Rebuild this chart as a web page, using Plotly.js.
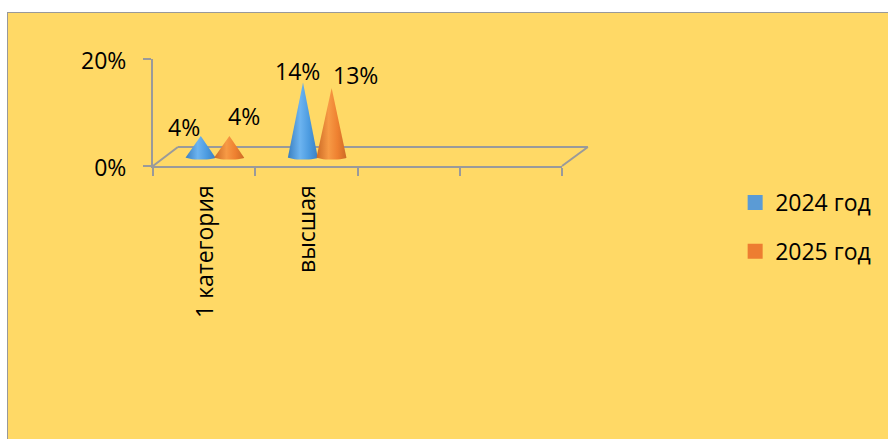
<!DOCTYPE html>
<html><head><meta charset="utf-8">
<script src="https://cdn.plot.ly/plotly-3.0.1.min.js"></script>
<style>
html,body{margin:0;padding:0;background:#fff;overflow:hidden}
#frame{position:absolute;left:7px;top:12px;width:881px;height:427px;box-sizing:border-box;border-left:1px solid #999;border-top:1px solid #999;background:#FFD966}
#chart{width:880px;height:426px}
</style></head><body><div id="frame"><div id="chart"></div></div>
<script>
const categories = ["1 категория", "высшая", " ", "  "];
const series2024 = [4, 14];
const series2025 = [4, 13];
const seriesNames = ["2024 год", "2025 год"];
const yTickVals = [0, 20];
const yTickText = ["0%", "20%"];
const lightColors = ["#6db4f0", "#f79a45"];
const mainColors = ["#5B9BD5", "#ED7D31"];
const coneColors = ["#4c9be0", "#ee8030"];
const darkColors = ["#3a7fc0", "#cc6a25"];
const pairOffset = [-0.14, 0.14];
const coneHalfWidth = 0.148;
const baseEllipse = 0.4;
const labelShift = [[[-17, 9], [15, 20]], [[-6, 12], [24, 13]]];

function conePath(cx, h) {
  const xs = [cx], ys = [h];
  for (let i = 0; i <= 16; i++) {
    const a = Math.PI * i / 16;
    xs.push(cx + coneHalfWidth * Math.cos(a));
    ys.push(-baseEllipse * Math.sin(a));
  }
  xs.push(cx); ys.push(h);
  return {xs, ys};
}

const traces = [{
  x: categories, y: [0, 0, 0, 0], type: "scatter", mode: "markers",
  marker: {opacity: 0}, showlegend: false, hoverinfo: "skip", xaxis: "x", yaxis: "y"
}];
const annotations = [];
[series2024, series2025].forEach((vals, s) => {
  vals.forEach((v, c) => {
    const cx = c + pairOffset[s];
    const p = conePath(cx, v);
    traces.push({
      x: p.xs, y: p.ys, type: "scatter", mode: "lines", fill: "toself",
      line: {width: 0, color: coneColors[s]},
      fillgradient: {
        type: "horizontal", start: cx - coneHalfWidth, stop: cx + coneHalfWidth,
        colorscale: [[0, darkColors[s]], [0.4, lightColors[s]], [0.7, coneColors[s]], [1, darkColors[s]]]
      },
      showlegend: false, hoverinfo: "skip", xaxis: "x2", yaxis: "y2"
    });
    annotations.push({
      x: cx, y: v, xref: "x2", yref: "y2", text: v + "%", showarrow: false,
      xshift: labelShift[c][s][0], yshift: labelShift[c][s][1],
      font: {family: "Open Sans, sans-serif", size: 23, color: "#000"}
    });
  });
});
seriesNames.forEach((n, s) => {
  traces.push({
    x: [null], y: [null], type: "scatter", mode: "markers", name: n, legendgroup: n,
    marker: {symbol: "square", size: 15, color: mainColors[s]}, xaxis: "x", yaxis: "y"
  });
});

const L = 145, T = 46, W = 411, H = 107, FW = 880, FH = 426;
const gray = "#9a9a9a";
const px = v => (v - L) / W, py = v => 1 - (v - T) / H;
const floorLine = (x0, y0, x1, y1) => ({
  type: "line", xref: "paper", yref: "paper", layer: "below",
  x0: px(x0), y0: py(y0), x1: px(x1), y1: py(y1), line: {color: gray, width: 2}
});

Plotly.newPlot("chart", traces, {
  width: FW, height: FH, paper_bgcolor: "#FFD966", plot_bgcolor: "rgba(0,0,0,0)",
  margin: {l: L, t: T, r: FW - L - W, b: FH - T - H, pad: 0},
  font: {family: "Open Sans, sans-serif", size: 23, color: "#000"},
  xaxis: {
    type: "category", categoryorder: "array", categoryarray: categories,
    range: [-0.5, 3.5], tickson: "boundaries", tickangle: -90, ticks: "outside",
    ticklen: 8, tickwidth: 2, tickcolor: gray, showline: true, linecolor: gray, linewidth: 2,
    showgrid: false, zeroline: false, fixedrange: true, tickfont: {size: 23}, ticklabelstandoff: 8,
    ticklabelshift: 1
  },
  yaxis: {
    range: [0, 20], tickvals: yTickVals, ticktext: yTickText, ticks: "outside", ticklen: 8,
    tickwidth: 2, tickcolor: gray, showline: true, linecolor: gray, linewidth: 2,
    showgrid: false, zeroline: false, fixedrange: true, tickfont: {size: 23}, ticklabelstandoff: 12,
    ticklabelshift: 2
  },
  xaxis2: {overlaying: "x", range: [-0.607, 3.393], visible: false, fixedrange: true},
  yaxis2: {overlaying: "y", range: [-1.6, 18.4], visible: false, fixedrange: true},
  shapes: [
    floorLine(170, 134, 582, 134),
    floorLine(145, 153, 170, 134),
    floorLine(556, 153, 582, 134)
  ],
  annotations,
  showlegend: true,
  legend: {
    x: px(730), xanchor: "left", y: py(168), yanchor: "top",
    bgcolor: "rgba(0,0,0,0)", tracegroupgap: 16, itemwidth: 30, font: {size: 23}
  }
}, {staticPlot: true});
</script></body></html>
